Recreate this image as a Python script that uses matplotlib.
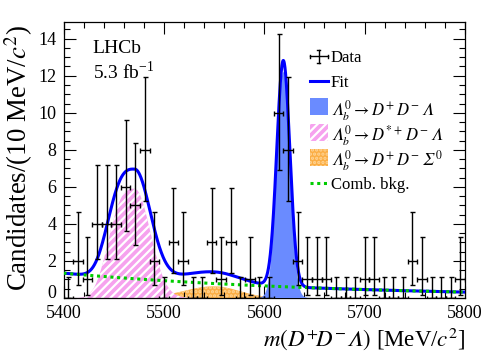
import numpy as np
import matplotlib
matplotlib.use('Agg')
import matplotlib.pyplot as plt
from matplotlib.lines import Line2D
from matplotlib.patches import Rectangle

plt.rcParams['font.family'] = ['Liberation Serif', 'DejaVu Serif']
plt.rcParams['mathtext.fontset'] = 'stix'
plt.rcParams['hatch.linewidth'] = 1.6

# ---------------- data ----------------
mass_lo, mass_hi, n_bins = 5400.0, 5800.0, 42
counts = [0, 2, 1, 4, 4, 4, 6, 5, 8, 2,
          0, 3, 2, 0, 0, 3, 1, 3, 0, 1,
          0, 0, 10, 8, 2, 1, 1, 1, 0, 0,
          0, 1, 1, 0, 0, 0, 2, 1, 0, 0,
          0, 1]
# 68% Poisson (Garwood) intervals for n = 0..12
poisson_lo = [0.0, 0.173, 0.708, 1.367, 2.086, 2.840, 3.620, 4.419, 5.232, 6.057, 6.891, 7.734, 8.585]
poisson_hi = [1.148, 3.300, 4.638, 5.918, 7.163, 8.382, 9.584, 10.77, 11.95, 13.11, 14.27, 15.42, 16.56]

# fit components (parameters)
comb_amp, comb_slope = 1.34, 0.0036
dstar_amp, dstar_mu, dstar_sl, dstar_pow_l, dstar_sr = 5.9, 5471.0, 30.5, 3.0, 15.5
sig0_amp, sig0_mu, sig0_sl, sig0_sr = 0.63, 5550.0, 30.0, 25.0
sig_amp, sig_mu, sig_sigma = 12.2, 5619.0, 6.5

x_ticks = [5400, 5500, 5600, 5700, 5800]
y_ticks = [0, 2, 4, 6, 8, 10, 12, 14]

legend_labels = ['Data', 'Fit',
                 r'$\mathit{𝛬}_b^0 \rightarrow D^{+}\,D^{-}\,\mathit{𝛬}$',
                 r'$\mathit{𝛬}_b^0 \rightarrow D^{*+}\,D^{-}\,\mathit{𝛬}$',
                 r'$\mathit{𝛬}_b^0 \rightarrow D^{+}\,D^{-}\,\mathit{𝛴}^{0}$',
                 'Comb. bkg.']

# ---------------- model ----------------
m = np.linspace(mass_lo, mass_hi, 2001)
comb = comb_amp * np.exp(-comb_slope * (m - mass_lo))
dstar = np.where(m < dstar_mu,
                 dstar_amp * np.exp(-np.abs((m - dstar_mu) / dstar_sl) ** dstar_pow_l),
                 dstar_amp * np.exp(-0.5 * ((m - dstar_mu) / dstar_sr) ** 2))
sig0 = np.where(m < sig0_mu,
                sig0_amp * np.exp(-0.5 * ((m - sig0_mu) / sig0_sl) ** 2),
                sig0_amp * np.exp(-0.5 * ((m - sig0_mu) / sig0_sr) ** 2))
sig = sig_amp * np.exp(-0.5 * ((m - sig_mu) / sig_sigma) ** 2)
total = comb + dstar + sig0 + sig

# ---------------- figure ----------------
W, H = 494, 356
fig = plt.figure(figsize=(W / 100, H / 100), dpi=100)
ax_l, ax_r, ax_t, ax_b = 63.5, 465.0, 22.0, 298.0
ax = fig.add_axes([ax_l / W, 1 - ax_b / H, (ax_r - ax_l) / W, (ax_b - ax_t) / H])

c_sig0, c_sig0_h = '#fbae45', '#ffd597'
c_dstar = '#f6a2ee'
c_sig = '#6a8bff'
c_fit = '#0000ff'
c_comb = '#00cc00'
comb_ls = (0, (1, 1.2))

ax.fill_between(m, 0, sig0, facecolor=c_sig0, edgecolor=c_sig0_h, hatch='....', linewidth=0, zorder=1)
ax.fill_between(m, 0, dstar, facecolor=c_dstar, edgecolor='white', hatch='////', linewidth=0, zorder=2)
ax.fill_between(m, 0, sig, facecolor=c_sig, linewidth=0, zorder=3)
ax.plot(m, total, color=c_fit, lw=2.2, zorder=4)
ax.plot(m, comb, color=c_comb, lw=2.2, ls=comb_ls, zorder=5)

edges = np.linspace(mass_lo, mass_hi, n_bins + 1)
centers = 0.5 * (edges[:-1] + edges[1:])
halfw = 0.5 * (edges[1] - edges[0])
cnt = np.array(counts)
lo = cnt - np.array([poisson_lo[c] for c in counts])
hi = np.array([poisson_hi[c] for c in counts]) - cnt
ax.errorbar(centers, cnt, xerr=halfw, yerr=[lo, hi], fmt='none', ecolor='black',
            elinewidth=1.0, capsize=1.8, capthick=1.0, zorder=6)

ax.set_xlim(mass_lo, mass_hi)
ax.set_ylim(0, 14.9)
ax.set_xticks(x_ticks)
ax.set_yticks(y_ticks)
ax.xaxis.set_minor_locator(matplotlib.ticker.MultipleLocator(20))
ax.yaxis.set_minor_locator(matplotlib.ticker.MultipleLocator(0.5))
ax.tick_params(which='both', direction='in', top=True, right=True, width=0.8, labelsize=13)
ax.tick_params(which='major', length=8.5, pad=5)
ax.tick_params(which='minor', length=4.5)
for s in ax.spines.values():
    s.set_linewidth(0.9)
ax.get_yticklabels()[0].set_va('baseline')

ax.set_xlabel(r'$m(D^{+}\!D^{-}\mathit{𝛬})$ [MeV/$c^{2}$]', fontsize=16.5, loc='right')
ax.set_ylabel(r'Candidates/(10 MeV/$c^{2}$)', fontsize=19.4, loc='top')
ax.xaxis.set_label_coords(1.0, -0.1)
ax.yaxis.set_label_coords(-0.07, 0.99)

ax.text(0.073, 0.935, 'LHCb', transform=ax.transAxes, fontsize=14, va='top', ha='left')
ax.text(0.073, 0.86, r'5.3 fb$^{\mathregular{-1}}$', transform=ax.transAxes, fontsize=14, va='top', ha='left')

# ---------------- legend (drawn by hand, figure-pixel layout) ----------------
def fx(px):
    return px / W

def fy(py):
    return 1 - py / H

row_y = [56, 81, 106.5, 132, 157, 183]
hx0, hx1, tx = 310, 327.5, 331
for yy, lab in zip(row_y, legend_labels):
    fig.text(fx(tx), fy(yy), lab, fontsize=12, va='center_baseline', ha='left')
# data cross
xc = (hx0 + hx1) / 2
fig.add_artist(Line2D([fx(hx0), fx(hx1)], [fy(row_y[0])] * 2, color='black', lw=1.0))
fig.add_artist(Line2D([fx(xc)] * 2, [fy(row_y[0] - 6.5), fy(row_y[0] + 6.5)], color='black', lw=1.0))
for xx in (hx0, hx1):
    fig.add_artist(Line2D([fx(xx)] * 2, [fy(row_y[0] - 1.5), fy(row_y[0] + 1.5)], color='black', lw=1.0))
for yy in (row_y[0] - 6.5, row_y[0] + 6.5):
    fig.add_artist(Line2D([fx(xc - 1.5), fx(xc + 1.5)], [fy(yy)] * 2, color='black', lw=1.0))
# fit line
fig.add_artist(Line2D([fx(hx0), fx(hx1)], [fy(row_y[1])] * 2, color=c_fit, lw=2.2))
# patches
for yy, fc, ec, hat in [(row_y[2], c_sig, 'none', None),
                        (row_y[3], c_dstar, 'white', '////'),
                        (row_y[4], c_sig0, c_sig0_h, '....')]:
    fig.add_artist(Rectangle((fx(hx0), fy(yy + 8.5)), fx(hx1) - fx(hx0), 17 / H,
                             facecolor=fc, edgecolor=ec, hatch=hat, linewidth=0,
                             transform=fig.transFigure))
# comb line
fig.add_artist(Line2D([fx(hx0), fx(hx1)], [fy(row_y[5])] * 2, color=c_comb, lw=2.2, ls=comb_ls))

fig.savefig('out.png', dpi=100)
